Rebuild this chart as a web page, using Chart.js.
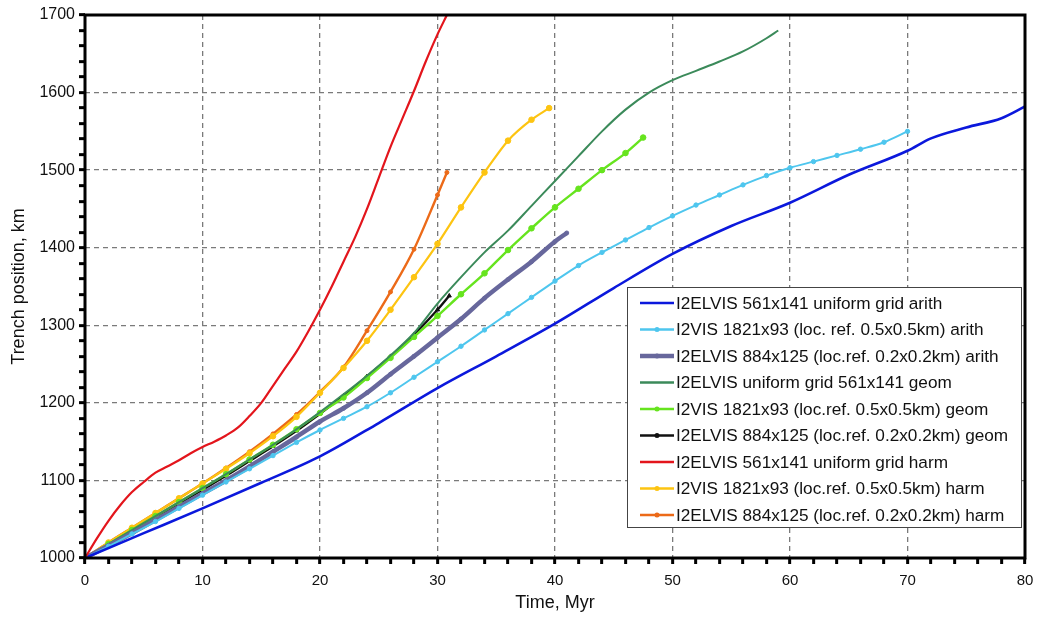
<!DOCTYPE html>
<html>
<head>
<meta charset="utf-8">
<script src="https://cdn.jsdelivr.net/npm/chart.js@4.4.1/dist/chart.umd.min.js"></script>
<style>
  html, body { margin: 0; padding: 0; background: #fff; }
  canvas { display: block; }
</style>
</head>
<body>
<canvas id="c" width="1038" height="618"></canvas>
<script>
// axis ticks
const xTicks = [0, 10, 20, 30, 40, 50, 60, 70, 80]
const yTicks = [1000, 1100, 1200, 1300, 1400, 1500, 1600, 1700]

// series (time Myr / trench position km)
const blueT = [0, 5, 10, 15, 20, 25, 30, 35, 40, 45, 50, 55, 60, 65, 70, 72, 75, 78, 80]
const blueY = [1000, 1032, 1064, 1097, 1131, 1174, 1219, 1260, 1302, 1348, 1392, 1428, 1458, 1494, 1525, 1541, 1555, 1567, 1582]

const cyanT = [0, 2, 4, 6, 8, 10, 12, 14, 16, 18, 20, 22, 24, 26, 28, 30, 32, 34, 36, 38, 40, 42, 44, 46, 48, 50, 52, 54, 56, 58, 60, 62, 64, 66, 68, 70]
const cyanY = [1000, 1015, 1031, 1047, 1064, 1081, 1098, 1115, 1132, 1149, 1165, 1180, 1195, 1213, 1233, 1253, 1273, 1294, 1315, 1336, 1357, 1377, 1394, 1410, 1426, 1441, 1455, 1468, 1481, 1493, 1503, 1511, 1519, 1527, 1536, 1550]

const slateT = [0, 2, 4, 6, 8, 10, 12, 14, 16, 18, 20, 22, 24, 26, 28, 30, 32, 34, 36, 38, 40, 41]
const slateY = [1000, 1016, 1032, 1049, 1066, 1083, 1100, 1118, 1137, 1156, 1176, 1193, 1213, 1237, 1260, 1284, 1308, 1335, 1359, 1382, 1408, 1419]

const dkGreenT = [0, 2, 4, 6, 8, 10, 12, 14, 16, 18, 20, 22, 24, 26, 28, 30, 32, 34, 36, 38, 40, 42, 44, 46, 48, 50, 52, 54, 56, 58, 59]
const dkGreenY = [1000, 1018, 1036, 1054, 1072, 1090, 1108, 1127, 1146, 1166, 1188, 1211, 1235, 1261, 1290, 1328, 1362, 1394, 1422, 1454, 1486, 1518, 1550, 1578, 1600, 1616, 1628, 1640, 1653, 1670, 1680]

const greenT = [0, 2, 4, 6, 8, 10, 12, 14, 16, 18, 20, 22, 24, 26, 28, 30, 32, 34, 36, 38, 40, 42, 44, 46, 47.5]
const greenY = [1000, 1018, 1036, 1054, 1072, 1090, 1108, 1127, 1146, 1166, 1187, 1207, 1232, 1258, 1285, 1312, 1340, 1367, 1397, 1425, 1452, 1476, 1500, 1522, 1542]

const blackT = [0, 2, 4, 6, 8, 10, 12, 14, 16, 18, 20, 22, 24, 26, 28, 30, 31]
const blackY = [1000, 1017, 1035, 1052, 1070, 1088, 1106, 1125, 1144, 1164, 1186, 1209, 1234, 1260, 1288, 1320, 1338]

const redT = [0, 1, 2, 3, 4, 5, 6, 7, 8, 9, 10, 11, 12, 13, 14, 15, 16, 17, 18, 19, 20, 21, 22, 23, 24, 25, 26, 27, 28, 29, 30, 30.8]
const redY = [1000, 1025, 1048, 1068, 1085, 1098, 1110, 1118, 1126, 1135, 1143, 1150, 1158, 1168, 1183, 1200, 1222, 1244, 1266, 1292, 1320, 1350, 1382, 1414, 1450, 1490, 1530, 1566, 1602, 1640, 1675, 1700]

const yellowT = [0, 2, 4, 6, 8, 10, 12, 14, 16, 18, 20, 22, 24, 26, 28, 30, 32, 34, 36, 38, 39.5]
const yellowY = [1000, 1020, 1039, 1058, 1077, 1096, 1115, 1135, 1157, 1182, 1213, 1245, 1280, 1320, 1362, 1405, 1452, 1497, 1538, 1565, 1580]

const orangeT = [0, 2, 4, 6, 8, 10, 12, 14, 16, 18, 20, 22, 24, 26, 28, 30, 30.8]
const orangeY = [1000, 1020, 1039, 1058, 1077, 1096, 1116, 1137, 1160, 1185, 1214, 1246, 1293, 1343, 1398, 1468, 1497]

const labels = [
    'I2ELVIS 561x141 uniform grid arith',
    'I2VIS 1821x93 (loc. ref. 0.5x0.5km) arith',
    'I2ELVIS 884x125 (loc.ref. 0.2x0.2km) arith',
    'I2ELVIS uniform grid 561x141 geom',
    'I2VIS 1821x93 (loc.ref. 0.5x0.5km) geom',
    'I2ELVIS 884x125 (loc.ref. 0.2x0.2km) geom',
    'I2ELVIS 561x141 uniform grid harm',
    'I2VIS 1821x93 (loc.ref. 0.5x0.5km) harm',
    'I2ELVIS 884x125 (loc.ref. 0.2x0.2km) harm'
]

const FONT = '"Liberation Sans", Arial, sans-serif'

function pts(t, y) {
    return t.map((v, i) => ({x: v, y: y[i]}))
}

function series(i, t, y, color, width, marker, radius) {
    return {
        label: labels[i],
        data: pts(t, y),
        borderColor: color,
        backgroundColor: color,
        borderWidth: width,
        pointStyle: marker || 'circle',
        pointRadius: marker ? radius : 0,
        pointBorderWidth: 1,
        cubicInterpolationMode: 'monotone',
        hasMarker: !!marker
    }
}

const datasets = [
    series(6, redT, redY, '#e3151c', 2.2),
    series(0, blueT, blueY, '#0b18dc', 2.6),
    series(1, cyanT, cyanY, '#4ec6ee', 2, 'circle', 2.2),
    series(2, slateT, slateY, '#67679c', 4.5, 'circle', 2),
    series(3, dkGreenT, dkGreenY, '#3b8a5a', 2),
    series(4, greenT, greenY, '#66e41e', 2.4, 'circle', 2.8),
    series(5, blackT, blackY, '#111111', 2.4, 'triangle', 2.4),
    series(7, yellowT, yellowY, '#fdc411', 2.2, 'circle', 2.8),
    series(8, orangeT, orangeY, '#ec6a18', 2.4, 'circle', 2)
]

// legend order as in the picture
const legendOrder = [1, 2, 3, 4, 5, 6, 0, 7, 8]

const framePlugin = {
    id: 'frameAndLegend',
    afterDatasetsDraw(chart) {
        const {ctx, chartArea: a} = chart
        ctx.save()

        // legend box
        const bx = 627, by = 287, bw = 394, bh = 240
        ctx.fillStyle = '#fff'
        ctx.fillRect(bx, by, bw, bh)
        ctx.strokeStyle = '#444'
        ctx.lineWidth = 1
        ctx.strokeRect(bx + 0.5, by + 0.5, bw, bh)

        ctx.font = '17.2px ' + FONT
        ctx.textBaseline = 'middle'
        ctx.textAlign = 'left'
        legendOrder.forEach((di, row) => {
            const ds = datasets[di]
            const y = by + 16 + row * 26.5
            ctx.strokeStyle = ds.borderColor
            ctx.lineWidth = Math.max(ds.borderWidth, 2.5)
            ctx.beginPath()
            ctx.moveTo(bx + 13, y)
            ctx.lineTo(bx + 47, y)
            ctx.stroke()
            if (ds.hasMarker) {
                ctx.fillStyle = ds.borderColor
                ctx.beginPath()
                ctx.arc(bx + 30, y, 2.5, 0, Math.PI * 2)
                ctx.fill()
            }
            ctx.fillStyle = '#111'
            ctx.fillText(ds.label, bx + 49, y + 1)
        })

        // heavy frame round the plot
        ctx.strokeStyle = '#000'
        ctx.lineWidth = 3
        ctx.strokeRect(a.left, a.top, a.right - a.left, a.bottom - a.top)
        ctx.restore()
    }
}

const gridGray = '#7a7a7a'

new Chart(document.getElementById('c'), {
    type: 'line',
    data: {datasets: datasets},
    plugins: [framePlugin],
    options: {
        responsive: false,
        animation: false,
        devicePixelRatio: 1,
        layout: {padding: {top: 15, right: 13, left: 0, bottom: 0}},
        plugins: {legend: {display: false}, tooltip: {enabled: false}},
        scales: {
            x: {
                type: 'linear',
                min: xTicks[0],
                max: xTicks[xTicks.length - 1],
                afterFit: s => {
                    s.height = 60
                    s.paddingLeft = 0
                    s.paddingRight = 9
                },
                ticks: {
                    stepSize: 2,
                    autoSkip: false,
                    maxRotation: 0,
                    padding: 8,
                    color: '#111',
                    font: {size: 15, family: FONT},
                    callback: v => xTicks.includes(v) ? String(v) : ''
                },
                grid: {
                    color: c => (c.tick && xTicks.includes(c.tick.value)) ? gridGray : 'rgba(0,0,0,0)',
                    lineWidth: 1.3,
                    tickColor: '#000',
                    tickWidth: 3,
                    tickLength: 6,
                    tickBorderDash: []
                },
                border: {display: false, dash: [5, 4]},
                title: {
                    display: true,
                    text: 'Time, Myr',
                    color: '#111',
                    font: {size: 18, family: FONT},
                    padding: {top: 11}
                }
            },
            y: {
                type: 'linear',
                min: yTicks[0],
                max: yTicks[yTicks.length - 1],
                afterFit: s => { s.width = 85 },
                ticks: {
                    stepSize: 20,
                    autoSkip: false,
                    padding: 4,
                    color: '#111',
                    font: {size: 16, family: FONT},
                    callback: v => yTicks.includes(v) ? String(v) : ''
                },
                grid: {
                    color: c => (c.tick && yTicks.includes(c.tick.value)) ? gridGray : 'rgba(0,0,0,0)',
                    lineWidth: 1.3,
                    tickColor: '#000',
                    tickWidth: 3,
                    tickLength: 6,
                    tickBorderDash: []
                },
                border: {display: false, dash: [5, 4]},
                title: {
                    display: true,
                    text: 'Trench position, km',
                    color: '#111',
                    font: {size: 18, family: FONT},
                    padding: {top: 8, bottom: 2}
                }
            }
        }
    }
})
</script>
</body>
</html>
